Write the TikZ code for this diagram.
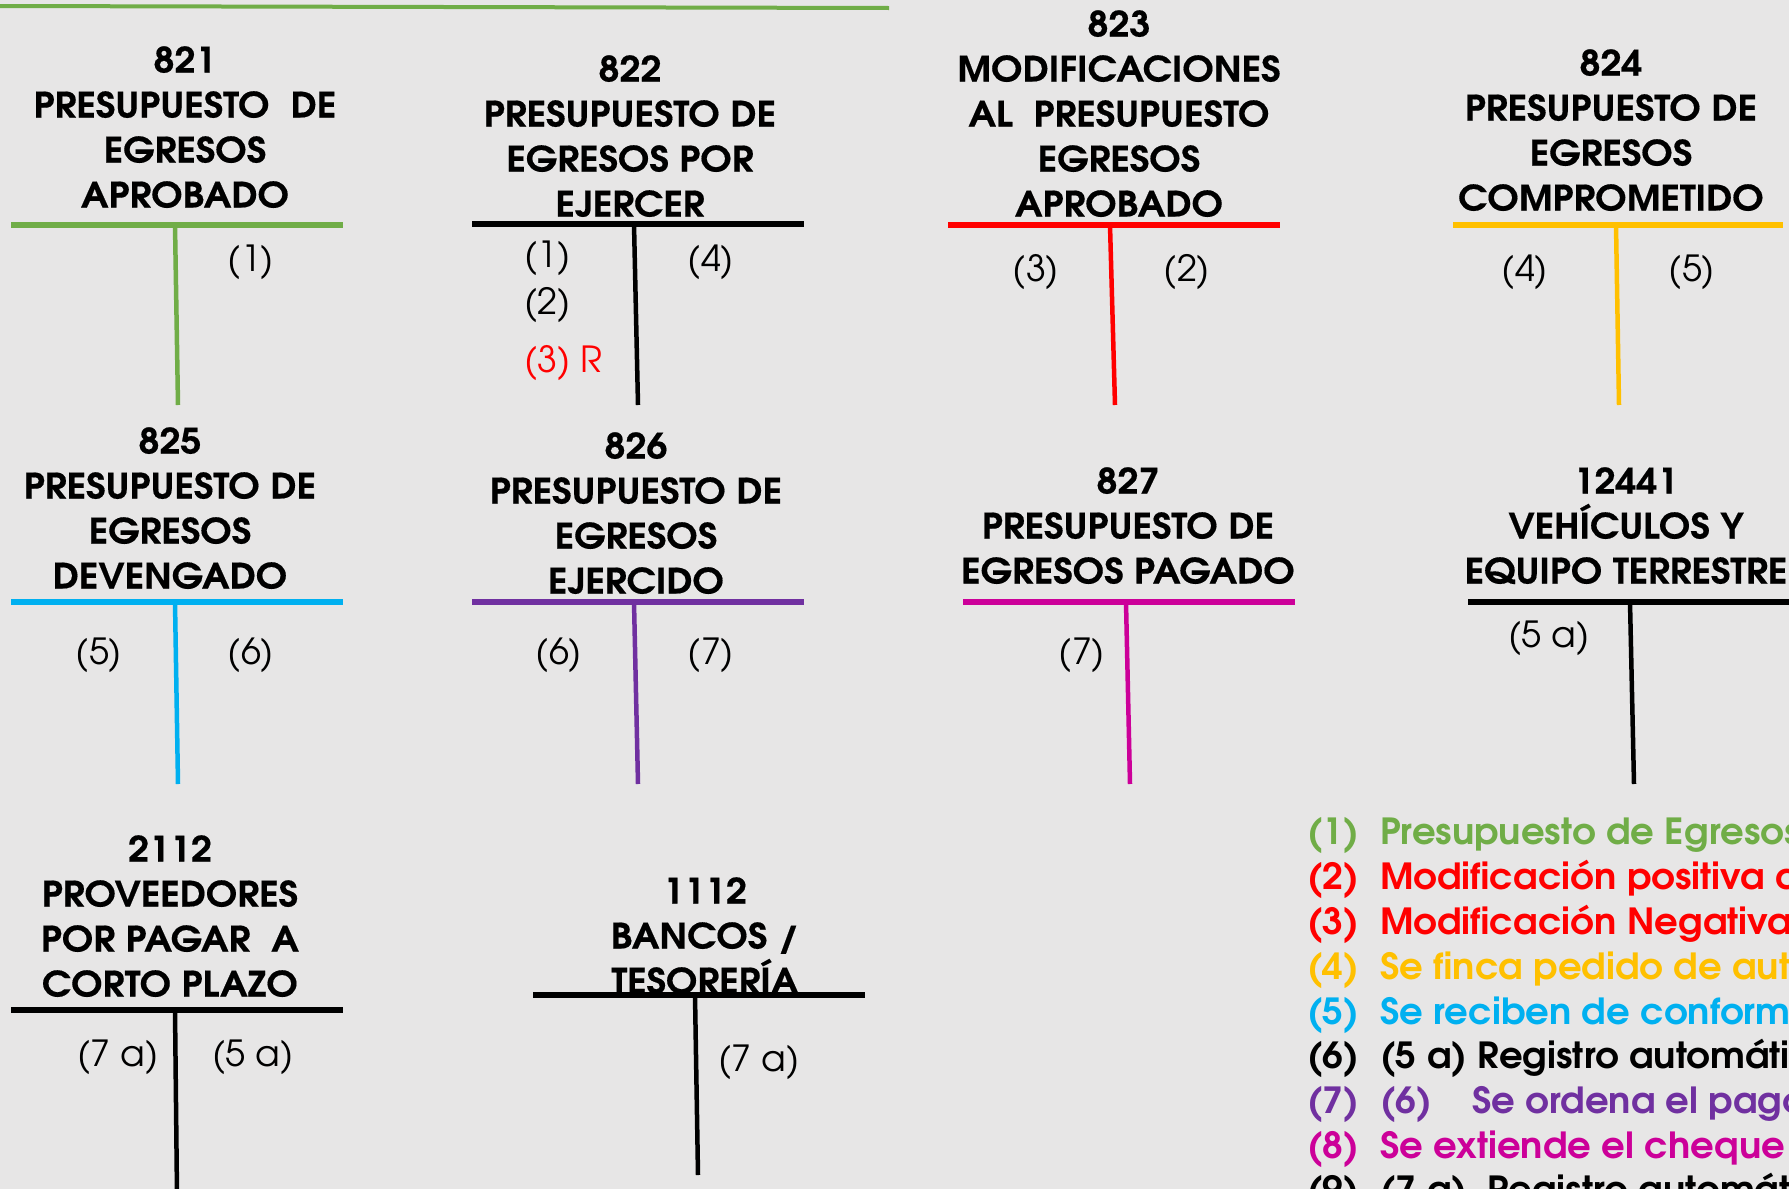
\documentclass[tikz,border=0pt]{standalone}
\usepackage{fontspec}
\newfontfamily\advfont{TeX Gyre Adventor}
\newfontfamily\advtitle[FakeStretch=1.07,FakeBold=0.4]{TeX Gyre Adventor}
\newfontfamily\advleg[FakeStretch=1.03]{TeX Gyre Adventor}
\definecolor{bgc}{HTML}{E7E6E6}
\definecolor{cgreen}{HTML}{70AD47}
\definecolor{cred}{HTML}{FF0000}
\definecolor{cyellow}{HTML}{FFC000}
\definecolor{ccyan}{HTML}{00B0F0}
\definecolor{cpurple}{HTML}{7030A0}
\definecolor{cmagenta}{HTML}{CC0099}
\newcommand\ttlfont{\advtitle\bfseries\fontsize{35}{45}\selectfont}
\newcommand\entfont{\advfont\fontsize{36}{44}\selectfont}
\newcommand\legfont{\advleg\bfseries\fontsize{36}{44}\selectfont}
\tikzset{
  ttl/.style={font=\ttlfont, align=center, anchor=north, inner sep=0pt},
  ent/.style={font=\entfont, inner sep=0pt},
  hbar/.style={line width=6pt},
  vbar/.style={line width=4.5pt},
  leg/.style={font=\legfont, anchor=base west, inner sep=0pt},
}
\begin{document}
\begin{tikzpicture}[x=1pt,y=-1pt]
\useasboundingbox (0,0) rectangle (1789,1189);
\fill[bgc] (0,0) rectangle (1789,1189);
\clip (0,0) rectangle (1789,1189);
% top rule
\coordinate (topL) at (0,6); \coordinate (topR) at (889,8);
\draw[cgreen, line width=4pt] (topL) -- (topR);

% 821
\node[ttl] (t821) at (185,46) {821\\PRESUPUESTO\ \ DE\\EGRESOS\\APROBADO};
\coordinate (a821l) at (11,225); \coordinate (a821r) at (343,225);
\coordinate (a821t) at (175,225); \coordinate (a821b) at (178,405);
\draw[hbar, cgreen] (a821l) -- (a821r);
\draw[vbar, cgreen] (a821t) -- (a821b);
\node[ent] (e821a) at (251,262) {(1)};

% 822
\node[ttl] (t822) at (630,55) {822\\PRESUPUESTO DE\\EGRESOS POR\\EJERCER};
\coordinate (a822l) at (472,224); \coordinate (a822r) at (804,224);
\coordinate (a822t) at (634,224); \coordinate (a822b) at (638,405);
\draw[hbar, black] (a822l) -- (a822r);
\draw[vbar, black] (a822t) -- (a822b);
\node[ent, anchor=west] (e822a) at (524,258) {(1)};
\node[ent, anchor=west] (e822b) at (524,305) {(2)};
\node[ent, anchor=west, text=cred] (e822c) at (524,363) {(3) R};
\node[ent] (e822d) at (711,262) {(4)};

% 823
\node[ttl] (t823) at (1119,10) {823\\MODIFICACIONES\\AL\ \ PRESUPUESTO\\EGRESOS\\APROBADO};
\coordinate (a823l) at (948,225); \coordinate (a823r) at (1280,225);
\coordinate (a823t) at (1110,225); \coordinate (a823b) at (1115,405);
\draw[hbar, cred] (a823l) -- (a823r);
\draw[vbar, cred] (a823t) -- (a823b);
\node[ent] (e823a) at (1036,272) {(3)};
\node[ent] (e823b) at (1187,272) {(2)};

% 824
\node[ttl] (t824) at (1611,49) {824\\PRESUPUESTO DE\\EGRESOS\\COMPROMETIDO};
\coordinate (a824l) at (1453,225); \coordinate (a824r) at (1783,225);
\coordinate (a824t) at (1616,225); \coordinate (a824b) at (1619,405);
\draw[hbar, cyellow] (a824l) -- (a824r);
\draw[vbar, cyellow] (a824t) -- (a824b);
\node[ent] (e824a) at (1525,272) {(4)};
\node[ent] (e824b) at (1692,272) {(5)};

% 825
\node[ttl] (t825) at (170,427) {825\\PRESUPUESTO DE\\EGRESOS\\DEVENGADO};
\coordinate (a825l) at (11,602); \coordinate (a825r) at (343,602);
\coordinate (a825t) at (175,602); \coordinate (a825b) at (178,784);
\draw[hbar, ccyan] (a825l) -- (a825r);
\draw[vbar, ccyan] (a825t) -- (a825b);
\node[ent] (e825a) at (99,655) {(5)};
\node[ent] (e825b) at (251,655) {(6)};

% 826
\node[ttl] (t826) at (636,432) {826\\PRESUPUESTO DE\\EGRESOS\\EJERCIDO};
\coordinate (a826l) at (472,602); \coordinate (a826r) at (804,602);
\coordinate (a826t) at (634,602); \coordinate (a826b) at (638,784);
\draw[hbar, cpurple] (a826l) -- (a826r);
\draw[vbar, cpurple] (a826t) -- (a826b);
\node[ent] (e826a) at (559,655) {(6)};
\node[ent] (e826b) at (711,655) {(7)};

% 827
\node[ttl] (t827) at (1128,467) {827\\PRESUPUESTO DE\\EGRESOS PAGADO};
\coordinate (a827l) at (963,602); \coordinate (a827r) at (1295,602);
\coordinate (a827t) at (1126,602); \coordinate (a827b) at (1130,784);
\draw[hbar, cmagenta] (a827l) -- (a827r);
\draw[vbar, cmagenta] (a827t) -- (a827b);
\node[ent] (e827a) at (1082,655) {(7)};

% 12441
\node[ttl] (t12441) at (1626,467) {12441\\VEHÍCULOS Y\\EQUIPO TERRESTRE};
\coordinate (a12441l) at (1468,602); \coordinate (a12441r) at (1800,602);
\coordinate (a12441t) at (1630,602); \coordinate (a12441b) at (1634,784);
\draw[hbar, black] (a12441l) -- (a12441r);
\draw[vbar, black] (a12441t) -- (a12441b);
\node[ent] (e12441a) at (1549,638) {(5 a)};

% 2112
\node[ttl] (t2112) at (170,835) {2112\\PROVEEDORES\\POR PAGAR\ \ A\\CORTO PLAZO};
\coordinate (a2112l) at (11,1010); \coordinate (a2112r) at (343,1010);
\coordinate (a2112t) at (175,1010); \coordinate (a2112b) at (177,1195);
\draw[hbar, black] (a2112l) -- (a2112r);
\draw[vbar, black] (a2112t) -- (a2112b);
\node[ent] (e2112a) at (118,1057) {(7 a)};
\node[ent] (e2112b) at (253,1057) {(5 a)};

% 1112
\node[ttl] (t1112) at (705,877) {1112\\BANCOS /\\TESORERÍA};
\coordinate (a1112l) at (533,995); \coordinate (a1112r) at (865,995);
\coordinate (a1112t) at (695,995); \coordinate (a1112b) at (698,1175);
\draw[hbar, black] (a1112l) -- (a1112r);
\draw[vbar, black] (a1112t) -- (a1112b);
\node[ent] (e1112a) at (759,1062) {(7 a)};

% legend
\node[leg, text=cgreen] (l1) at (1307,844) {\makebox[73pt][l]{(1)}Presupuesto de Egresos};
\node[leg, text=cred] (l2) at (1307,889) {\makebox[73pt][l]{(2)}Modificación positiva al};
\node[leg, text=cred] (l3) at (1307,934) {\makebox[73pt][l]{(3)}Modificación Negativa al};
\node[leg, text=cyellow] (l4) at (1307,979) {\makebox[73pt][l]{(4)}Se finca pedido de automóvil};
\node[leg, text=ccyan] (l5) at (1307,1024) {\makebox[73pt][l]{(5)}Se reciben de conformidad};
\node[leg, text=black] (l6) at (1307,1068) {\makebox[73pt][l]{(6)}(5 a) Registro automático};
\node[leg, text=cpurple] (l7) at (1307,1113) {\makebox[73pt][l]{(7)}\makebox[92pt][l]{(6)}Se ordena el pago};
\node[leg, text=cmagenta] (l8) at (1307,1158) {\makebox[73pt][l]{(8)}Se extiende el cheque};
\node[leg, text=black] (l9) at (1307,1202) {\makebox[73pt][l]{(9)}\makebox[107pt][l]{(7 a)}Registro automático};
\end{tikzpicture}
\end{document}
